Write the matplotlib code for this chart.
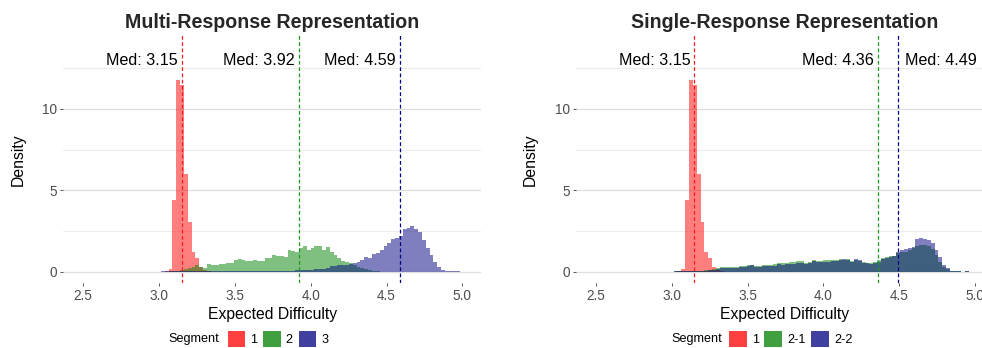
import numpy as np
import matplotlib
matplotlib.use("Agg")
import matplotlib.pyplot as plt
from matplotlib.patches import Patch

plt.rcParams['font.family'] = ['Liberation Sans', 'DejaVu Sans']

# histogram bins (100 bins, same grid in both panels)
bin_start = 2.4815
bin_width = 0.0253
n_bins = 100

# densities per bin
seg1 = [0, 0, 0, 0, 0, 0, 0, 0, 0, 0,
        0, 0, 0, 0, 0, 0, 0, 0, 0, 0,
        0, 0, 0.03, 0.15, 4.4, 11.8, 11.5, 6.0, 3.05, 1.25,
        0.85, 0.3, 0.1, 0.04, 0.02, 0, 0, 0, 0, 0,
        0, 0, 0, 0, 0, 0, 0, 0, 0, 0,
        0, 0, 0, 0, 0, 0, 0, 0, 0, 0,
        0, 0, 0, 0, 0, 0, 0, 0, 0, 0,
        0, 0, 0, 0, 0, 0, 0, 0, 0, 0,
        0, 0, 0, 0, 0, 0, 0, 0, 0, 0,
        0, 0, 0, 0, 0, 0, 0, 0, 0, 0]

multi_seg2 = [0, 0, 0, 0, 0, 0, 0, 0, 0, 0,
              0.01, 0, 0.01, 0.01, 0, 0.01, 0.01, 0.01, 0.02, 0.01,
              0.02, 0.02, 0.02, 0.03, 0.05, 0.08, 0.12, 0.18, 0.25, 0.33,
              0.42, 0.3, 0.25, 0.5, 0.45, 0.42, 0.48, 0.5, 0.52, 0.57,
              0.74, 0.78, 0.76, 0.7, 0.66, 0.72, 0.68, 0.7, 0.86, 0.84,
              1.04, 1.0, 1.0, 0.94, 1.32, 1.3, 1.25, 1.47, 1.62, 1.35,
              1.45, 1.58, 1.6, 1.35, 1.52, 1.2, 1.05, 0.88, 0.68, 0.6,
              0.52, 0.42, 0.32, 0.24, 0.16, 0.1, 0.06, 0.04, 0.02, 0.02,
              0.01, 0.01, 0, 0, 0, 0, 0, 0, 0, 0,
              0, 0, 0, 0, 0, 0, 0, 0, 0, 0]

multi_seg3 = [0, 0, 0, 0, 0.02, 0.01, 0.02, 0.02, 0.02, 0.01,
              0.01, 0.01, 0.01, 0.01, 0.01, 0.01, 0.02, 0.02, 0.02, 0.02,
              0.02, 0.03, 0.03, 0.04, 0.05, 0.05, 0.05, 0.05, 0.05, 0.05,
              0.05, 0.05, 0.05, 0.05, 0.05, 0.05, 0.05, 0.05, 0.05, 0.05,
              0.06, 0.06, 0.06, 0.06, 0.06, 0.06, 0.06, 0.06, 0.06, 0.06,
              0.08, 0.08, 0.08, 0.08, 0.08, 0.08, 0.1, 0.1, 0.1, 0.1,
              0.1, 0.15, 0.18, 0.2, 0.25, 0.35, 0.38, 0.4, 0.42, 0.45,
              0.48, 0.55, 0.62, 0.74, 0.92, 0.85, 1.12, 1.18, 1.35, 1.62,
              1.75, 2.0, 2.1, 2.18, 2.65, 2.72, 2.8, 2.65, 2.45, 1.95,
              1.45, 1.05, 0.63, 0.28, 0.1, 0.03, 0.03, 0.06, 0.05, 0.02]

single_seg21 = [0, 0, 0, 0, 0.01, 0.01, 0.01, 0.02, 0.01, 0.01,
                0.01, 0.01, 0.01, 0.01, 0.01, 0.01, 0.02, 0.02, 0.02, 0.02,
                0.02, 0.03, 0.03, 0.04, 0.05, 0.05, 0.06, 0.07, 0.08, 0.1,
                0.12, 0.16, 0.26, 0.29, 0.28, 0.3, 0.32, 0.32, 0.34, 0.37,
                0.45, 0.42, 0.35, 0.37, 0.4, 0.42, 0.44, 0.47, 0.54, 0.52,
                0.57, 0.6, 0.58, 0.65, 0.64, 0.54, 0.62, 0.76, 0.69, 0.7,
                0.72, 0.74, 0.76, 0.72, 0.8, 0.76, 0.8, 0.69, 0.72, 0.68,
                0.6, 0.57, 0.57, 0.62, 0.76, 0.86, 0.9, 0.96, 0.96, 1.15,
                1.25, 1.25, 1.35, 1.45, 1.62, 1.66, 1.64, 1.62, 1.41, 1.04,
                0.63, 0.33, 0.15, 0.06, 0.03, 0.03, 0.02, 0.03, 0.02, 0.01]

single_seg22 = [0, 0, 0, 0, 0.02, 0.01, 0.02, 0.02, 0.01, 0.01,
                0.01, 0.01, 0.01, 0.01, 0.01, 0.01, 0.02, 0.02, 0.02, 0.02,
                0.02, 0.03, 0.03, 0.04, 0.04, 0.05, 0.05, 0.06, 0.07, 0.08,
                0.1, 0.12, 0.2, 0.22, 0.22, 0.25, 0.26, 0.27, 0.29, 0.31,
                0.38, 0.44, 0.3, 0.32, 0.34, 0.35, 0.37, 0.39, 0.46, 0.44,
                0.47, 0.49, 0.47, 0.54, 0.55, 0.49, 0.53, 0.66, 0.58, 0.59,
                0.63, 0.63, 0.65, 0.68, 0.71, 0.78, 0.73, 0.61, 0.8, 0.74,
                0.52, 0.52, 0.46, 0.54, 0.61, 0.82, 0.85, 0.91, 0.98, 1.2,
                1.35, 1.41, 1.45, 1.55, 2.02, 2.07, 2.05, 1.96, 1.76, 1.35,
                0.94, 0.43, 0.22, 0.06, 0.03, 0.03, 0.02, 0.03, 0.02, 0.01]

multi_medians = [3.15, 3.92, 4.59]
single_medians = [3.15, 4.36, 4.49]
multi_labels = ['1', '2', '3']
single_labels = ['1', '2-1', '2-2']

colors = ['#FF0000', '#008000', '#000080']
line_colors = ['#FF1a1a', '#1f9a1f', '#00008B']

edges = bin_start + bin_width * np.arange(n_bins + 1)

W, H = 982, 348
fig = plt.figure(figsize=(W / 100, H / 100), dpi=100)
fig.patch.set_facecolor('white')

ax_w = 417.7 / W
ax_h = 249 / H
ax_b = 1 - 283 / H
ax1 = fig.add_axes([63.3 / W, ax_b, ax_w, ax_h])
ax2 = fig.add_axes([576 / W, ax_b, ax_w, ax_h])


def draw_panel(ax, series, medians, title, text_sides):
    for vals, c in zip(series, colors):
        ax.stairs(vals, edges, fill=True, color=c, alpha=0.5, linewidth=0, zorder=2)
    for m, lc, side in zip(medians, line_colors, text_sides):
        ax.axvline(m, color=lc, linestyle=(0, (3, 2)), linewidth=0.9, zorder=3)
        if side == 'left':
            ax.annotate('Med: %.2f' % m, xy=(m, 13), xytext=(-3, 0),
                        textcoords='offset points', ha='right', va='center',
                        fontsize=11.6, color='black')
        else:
            ax.annotate('Med: %.2f' % m, xy=(m, 13), xytext=(5, 0),
                        textcoords='offset points', ha='left', va='center',
                        fontsize=11.6, color='black')

    ax.set_xlim(2.369, 5.123)
    ax.set_ylim(-0.68, 14.6)
    ax.set_xticks([2.5, 3.0, 3.5, 4.0, 4.5, 5.0])
    ax.set_xticklabels(['2.5', '3.0', '3.5', '4.0', '4.5', '5.0'])
    ax.set_yticks([0, 5, 10])
    ax.set_yticks([2.5, 7.5, 12.5], minor=True)
    ax.tick_params(axis='both', which='major', length=2.5, width=0.7,
                   color='#555555', labelcolor='#4D4D4D', labelsize=9.8, pad=2)
    ax.tick_params(axis='y', which='minor', length=0)
    ax.grid(axis='y', which='major', color='#dedede', linewidth=0.9, zorder=0)
    ax.grid(axis='y', which='minor', color='#ededed', linewidth=0.8, zorder=0)
    ax.grid(axis='x', visible=False)
    ax.set_axisbelow(True)
    for s in ax.spines.values():
        s.set_visible(False)

    ax.text(0.5, 1.048, title, transform=ax.transAxes, ha='center', va='center',
            fontsize=14.1, fontweight='bold', color='#262626')
    ax.set_xlabel('Expected Difficulty', fontsize=11.3, color='black')
    ax.xaxis.set_label_coords(0.5, -0.1257)
    ax.xaxis.label.set_va('center')
    ax.set_ylabel('Density', fontsize=11.3, color='black')
    ax.yaxis.set_label_coords(-0.1085, 0.494)
    ax.yaxis.label.set_va('center')


draw_panel(ax1, [seg1, multi_seg2, multi_seg3], multi_medians,
           'Multi-Response Representation', ['left', 'left', 'left'])
draw_panel(ax2, [seg1, single_seg21, single_seg22], single_medians,
           'Single-Response Representation', ['left', 'left', 'right'])


def add_legend(labels, seg_x, keys_x):
    y = 1 - 339 / H
    fig.text(seg_x / W, y, 'Segment', ha='left', va='center', fontsize=9.1)
    handles = [Patch(facecolor=c, alpha=0.75, edgecolor='none') for c in colors]
    fig.legend(handles, labels, loc='center left', bbox_to_anchor=(keys_x / W, y),
               ncol=3, frameon=False, fontsize=9.1, handlelength=1.4,
               handleheight=1.45, handletextpad=0.4, columnspacing=0.45,
               borderpad=0, borderaxespad=0)


add_legend(multi_labels, 168.3, 227.5)
add_legend(single_labels, 671, 729)

fig.savefig('out.png', dpi=100, facecolor='white')
